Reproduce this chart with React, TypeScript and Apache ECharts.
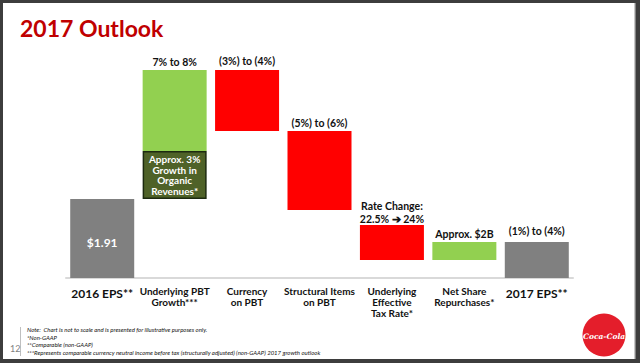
import React, { useEffect, useRef } from "react";
import * as echarts from "echarts";

const categories = [
  "2016 EPS**",
  "Underlying PBT\nGrowth***",
  "Currency\non PBT",
  "Structural Items\non PBT",
  "Underlying\nEffective\nTax Rate*",
  "Net Share\nRepurchases*",
  "2017 EPS**",
];
// illustrative (chart not to scale) waterfall values
const baseValues = [0, 79, 147, 68, 18, 18, 0];
const stepValues = [79, 48, 61, 79, 35, 18, 36];
const upperValues = [null, 81, null, null, null, null, null];
const kinds = ["total", "organic", "neg", "neg", "neg", "pos", "total"];
const topLabels = [
  "",
  "7% to 8%",
  "(3%) to (4%)",
  "(5%) to (6%)",
  "Rate Change:\n22.5% \u2794 24%",
  "Approx. $2B",
  "(1%) to (4%)",
];
const innerLabels = ["$1.91", "Approx. 3%\nGrowth in\nOrganic\nRevenues*", "", "", "", "", ""];
const topDistances = [0, 3, 3, 2, 0, 2, 5];
const footnotes = [
  "Note:  Chart is not to scale and is presented for illustrative purposes only.",
  "*Non-GAAP",
  "**Comparable (non-GAAP)",
  "***Represents comparable currency neutral income before tax (structurally adjusted) (non-GAAP) 2017 growth outlook",
];

const colorOf: Record<string, string> = {
  total: "#808080",
  organic: "#4F6228",
  neg: "#FF0000",
  pos: "#92D050",
};
const FONT = "Lato, 'Open Sans', sans-serif";

export default function App() {
  const ref = useRef<HTMLDivElement>(null);
  useEffect(() => {
    document.body.style.margin = "0";
    const chart = echarts.init(ref.current!, null, { renderer: "svg" });
    const mainData = stepValues.map((v, i) => {
      const k = kinds[i];
      const item: any = {
        value: v,
        itemStyle: {
          color: colorOf[k],
          borderColor: k === "organic" ? "#1d2a10" : "transparent",
          borderWidth: k === "organic" ? 1.5 : 0,
        },
        label: {
          show: true,
          position: "inside",
          formatter: innerLabels[i],
          color: "#ffffff",
          fontFamily: FONT,
          fontWeight: "bold",
          fontSize: i === 0 ? 12 : 10,
          lineHeight: i === 0 ? 14 : 10.5,
          offset: i === 0 ? [0, 4] : [0, 0],
        },
      };
      if (upperValues[i] == null && topLabels[i]) {
        item.label = {
          show: true,
          position: "top",
          distance: topDistances[i],
          formatter: topLabels[i],
          color: "#111111",
          fontFamily: FONT,
          fontWeight: "bold",
          fontSize: 10.5,
          lineHeight: 12.5,
        };
      }
      return item;
    });
    const upperData = upperValues.map((v, i) =>
      v == null
        ? "-"
        : {
            value: v,
            label: {
              show: true,
              position: "top",
              distance: topDistances[i],
              formatter: topLabels[i],
              color: "#111111",
              fontFamily: FONT,
              fontWeight: "bold",
              fontSize: 10.5,
            },
          }
    );

    chart.setOption({
      animation: false,
      backgroundColor: "#3d3d3d",
      grid: { left: 66, right: 67, top: 70, bottom: 85 },
      xAxis: {
        type: "category",
        data: categories,
        axisLine: { show: true, lineStyle: { color: "#d9d9d9", width: 2 } },
        axisTick: { show: false },
        axisLabel: {
          interval: 0,
          margin: 7,
          verticalAlign: "top",
          color: "#111111",
          fontFamily: FONT,
          fontWeight: "bold",
          fontSize: 10,
          lineHeight: 11,
          formatter: (v: string) => (v.indexOf("EPS") >= 0 ? "{eps|" + v + "}" : v),
          rich: {
            eps: {
              fontFamily: FONT,
              fontWeight: "bold",
              fontSize: 12,
              lineHeight: 16,
              color: "#111111",
            },
          },
        },
      },
      yAxis: { type: "value", min: 0, max: 208, show: false, splitLine: { show: false } },
      graphic: [
        { type: "rect", z: -10, shape: { x: 3, y: 3, width: 631, height: 356 }, style: { fill: "#ffffff" } },
        { type: "rect", z: -9, shape: { x: 634, y: 3, width: 1.5, height: 356 }, style: { fill: "#c8c8c8" } },
        {
          type: "text",
          left: 20,
          top: 16,
          style: { text: "2017 Outlook", fill: "#C00000", font: "bold 23px " + FONT },
        },
        {
          type: "line",
          shape: { x1: 20.5, y1: 327, x2: 20.5, y2: 356 },
          style: { stroke: "#bfbfbf", lineWidth: 1 },
        },
        {
          type: "text",
          left: 10,
          top: 344,
          style: { text: "12", fill: "#7f7f7f", font: "9px " + FONT },
        },
        ...footnotes.map((t, i) => ({
          type: "text",
          left: 27,
          top: [326, 334, 341, 349][i],
          style: { text: t, fill: "#111111", font: "italic 6px " + FONT },
        })),
        {
          type: "circle",
          shape: { cx: 604, cy: 335, r: 21.5 },
          style: { fill: "#E41E2B" },
        },
        {
          type: "text",
          x: 604,
          y: 336,
          style: {
            text: "Coca-Cola",
            fill: "#ffffff",
            font: "italic bold 7.5px 'DejaVu Serif', serif",
            align: "center",
            verticalAlign: "middle",
          },
        },
      ],
      series: [
        {
          type: "bar",
          stack: "w",
          barWidth: 64,
          silent: true,
          itemStyle: { color: "transparent" },
          data: baseValues,
        },
        {
          type: "bar",
          stack: "w",
          barWidth: 64,
          data: mainData,
        },
        {
          type: "bar",
          stack: "w",
          barWidth: 64,
          itemStyle: { color: "#92D050" },
          data: upperData,
        },
      ],
    });
    return () => chart.dispose();
  }, []);
  return <div ref={ref} style={{ width: 640, height: 363 }} />;
}
